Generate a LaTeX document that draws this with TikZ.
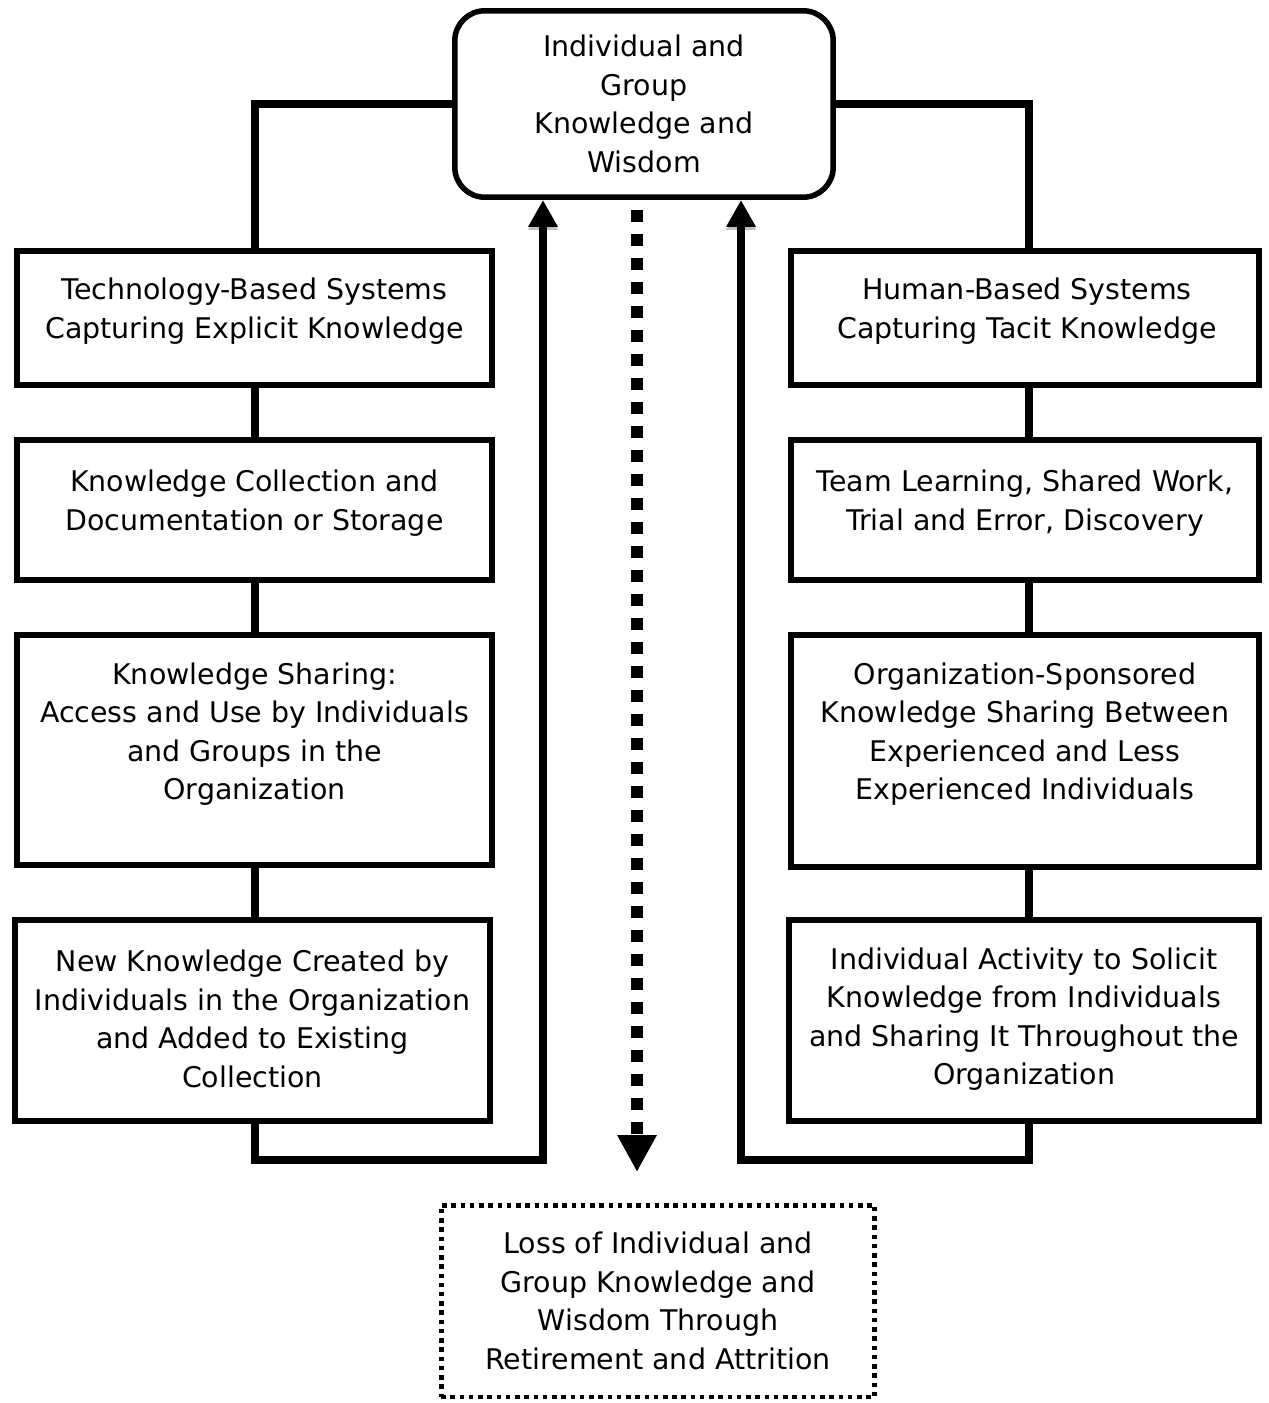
\documentclass[tikz,border=0pt]{standalone}
\usepackage{fontspec}
\setmainfont{DejaVu Sans}
\usetikzlibrary{arrows.meta,calc,positioning,backgrounds}

\tikzset{
  sysbox/.style={draw,line width=0.11cm,fill=white,minimum width=9.51cm,inner sep=0pt},
  boxtext/.style={align=center,font=\fontsize{16.2}{21.9}\selectfont,inner sep=0pt},
  trunk/.style={line width=0.17cm,preaction={draw=black!25,transform canvas={yshift=-0.06cm}}},
  uparrow/.style={trunk,-{Triangle[length=0.54cm,width=0.56cm]}},
  droparrow/.style={line width=0.24cm,dash pattern=on 0.24cm off 0.24cm,dash phase=0.28cm,
    -{Triangle[length=0.74cm,width=0.74cm]}}
}

\begin{document}
\begin{tikzpicture}[x=0.02cm,y=-0.02cm]
  \useasboundingbox (0,0) rectangle (1268,1403);

  % top box
  \node[draw,line width=0.11cm,rounded corners=0.6cm,fill=white,minimum width=7.57cm,
    minimum height=3.73cm,boxtext] (wisdom) at (644,104)
    {Individual and\\Group\\Knowledge and\\Wisdom};

  % left column
  \node[sysbox,minimum height=2.69cm] (tech) at (254.5,318) {};
  \node[sysbox,minimum height=2.81cm] (collect) at (254.5,510) {};
  \node[sysbox,minimum height=4.61cm] (share) at (254.5,750) {};
  \node[sysbox,minimum height=4.03cm] (newk) at (252.5,1020.5) {};
  \node[boxtext] (techtext) at ($(tech)+(0,-7)$) {Technology-Based Systems\\Capturing Explicit Knowledge};
  \node[boxtext] (collecttext) at ($(collect)+(0,-7)$) {Knowledge Collection and\\Documentation or Storage};
  \node[boxtext] (sharetext) at ($(share)+(0,-16)$) {Knowledge Sharing:\\Access and Use by Individuals\\and Groups in the\\Organization};
  \node[boxtext] (newktext) at ($(newk)+(0,-1.5)$) {New Knowledge Created by\\Individuals in the Organization\\and Added to Existing\\Collection};

  % right column
  \node[sysbox,minimum width=9.37cm,minimum height=2.69cm] (human) at (1025,318) {};
  \node[sysbox,minimum width=9.37cm,minimum height=2.81cm] (team) at (1025,510) {};
  \node[sysbox,minimum width=9.37cm,minimum height=4.65cm] (mentor) at (1025,751) {};
  \node[sysbox,minimum width=9.41cm,minimum height=4.03cm] (solicit) at (1024,1020.5) {};
  \node[boxtext] (humantext) at ($(human)+(2,-7)$) {Human-Based Systems\\Capturing Tacit Knowledge};
  \node[boxtext] (teamtext) at ($(team)+(0,-7)$) {Team Learning, Shared Work,\\Trial and Error, Discovery};
  \node[boxtext] (mentortext) at ($(mentor)+(0,-17)$) {Organization-Sponsored\\Knowledge Sharing Between\\Experienced and Less\\Experienced Individuals};
  \node[boxtext] (solicittext) at ($(solicit)+(0,-1.5)$) {Individual Activity to Solicit\\Knowledge from Individuals\\and Sharing It Throughout the\\Organization};

  % loss box
  \node[draw,line width=0.1cm,dash pattern=on 0.09cm off 0.095cm,minimum width=8.68cm,
    minimum height=3.84cm,boxtext] (loss) at (658,1301)
    {Loss of Individual and\\Group Knowledge and\\Wisdom Through\\Retirement and Attrition};

  \coordinate (lcorner) at (255,1160);
  \coordinate (lturn) at (543,1160);
  \coordinate (rcorner) at (1029,1160);
  \coordinate (rturn) at (741,1160);
  \coordinate (dropend) at (637,1172);

  \begin{scope}[on background layer]
    \draw[uparrow] (wisdom.west) -| (lcorner) -| (wisdom.south -| lturn);
    \draw[uparrow] (wisdom.east) -| (rcorner) -| (wisdom.south -| rturn);
  \end{scope}
  \draw[droparrow] (wisdom.south -| dropend) -- (dropend);
\end{tikzpicture}
\end{document}
